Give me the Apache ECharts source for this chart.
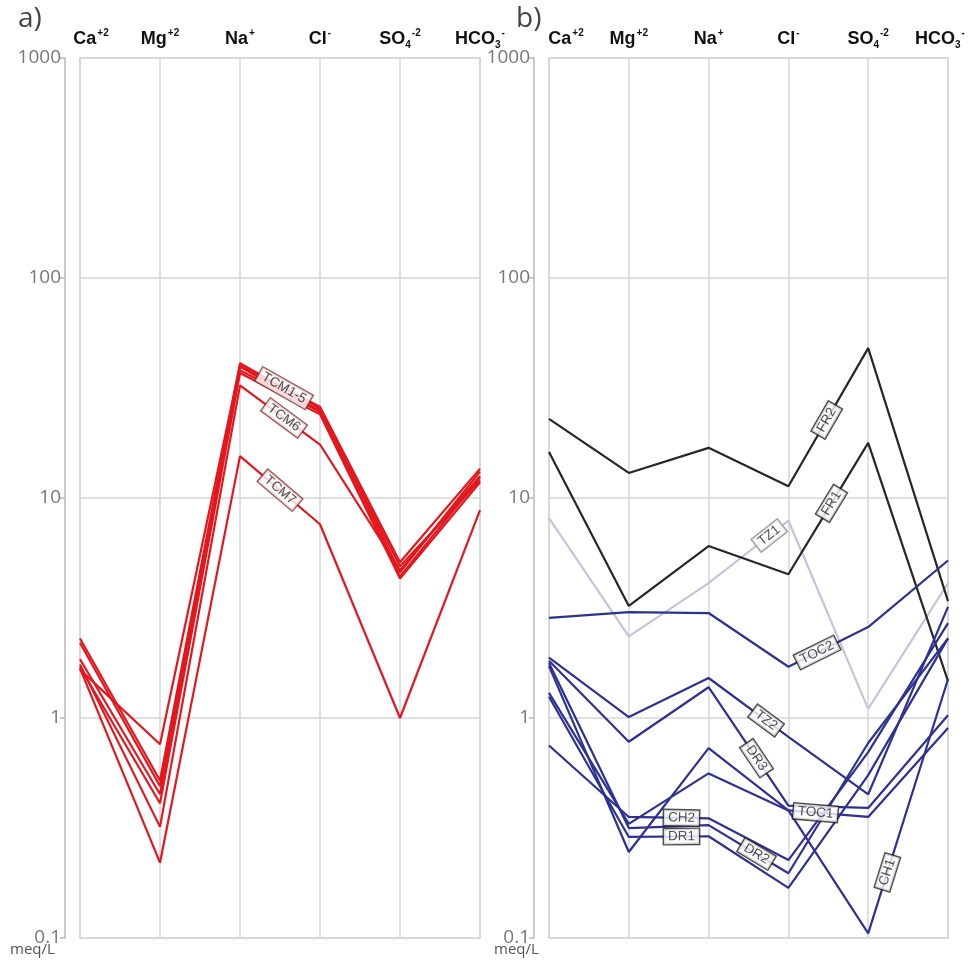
<!DOCTYPE html>
<html><head><meta charset="utf-8">
<script src="https://cdn.jsdelivr.net/npm/echarts@6/dist/echarts.min.js"></script>
<style>html,body{margin:0;padding:0;background:#fff}#c{width:976px;height:960px}</style>
</head><body><div id="c"></div>
<script>
// ---- data ----
var ions = ['Ca', 'Mg', 'Na', 'Cl', 'SO4', 'HCO3'];
var yTicks = [0.1, 1, 10, 100, 1000];
// panel a (meq/L): Ca, Mg, Na, Cl, SO4, HCO3
var TCM1 = [2.3, 0.52, 41, 25.5, 4.6, 13.2];
var TCM2 = [2.2, 0.49, 39.5, 24.5, 4.4, 12.4];
var TCM3 = [1.85, 0.45, 38, 25, 4.9, 12.0];
var TCM4 = [1.7, 0.41, 37, 24, 4.3, 11.8];
var TCM5 = [1.66, 0.76, 40, 26, 5.1, 13.6];
var TCM6 = [1.75, 0.32, 32.5, 17.5, 4.7, 12.6];
var TCM7 = [1.68, 0.22, 15.5, 7.6, 1.0, 8.8];
// panel b
var FR2 = [22.9, 13.0, 16.9, 11.3, 48, 3.4];
var FR1 = [16.2, 3.23, 6.05, 4.5, 17.8, 1.47];
var TZ1 = [8.1, 2.35, 4.1, 7.9, 1.1, 4.1];
var TOC2 = [2.85, 3.03, 3.0, 1.71, 2.59, 5.2];
var TZ2 = [1.88, 1.01, 1.52, 0.82, 0.45, 3.2];
var DR3 = [1.82, 0.78, 1.38, 0.40, 0.39, 1.03];
var TOC1 = [1.3, 0.33, 0.56, 0.38, 0.355, 0.90];
var CH2 = [0.75, 0.355, 0.35, 0.226, 0.70, 2.7];
var DR1 = [1.25, 0.288, 0.29, 0.169, 0.55, 2.3];
var DR2 = [1.78, 0.316, 0.326, 0.197, 0.77, 2.3];
var CH1 = [1.72, 0.246, 0.73, 0.38, 0.105, 1.5];

// ---- styling / layout ----
var RED = '#e3171d', BLACK = '#262626', LAV = '#c4c4dd', BLUE = '#2d3192';
var groupA = [
  {name:'TCM1', v:TCM1, c:RED}, {name:'TCM2', v:TCM2, c:RED}, {name:'TCM3', v:TCM3, c:RED},
  {name:'TCM4', v:TCM4, c:RED}, {name:'TCM5', v:TCM5, c:RED}, {name:'TCM6', v:TCM6, c:RED},
  {name:'TCM7', v:TCM7, c:RED}
];
var groupB = [
  {name:'TZ1', v:TZ1, c:LAV}, {name:'FR2', v:FR2, c:BLACK}, {name:'FR1', v:FR1, c:BLACK},
  {name:'TOC2', v:TOC2, c:BLUE}, {name:'TZ2', v:TZ2, c:BLUE}, {name:'DR3', v:DR3, c:BLUE},
  {name:'TOC1', v:TOC1, c:BLUE}, {name:'CH2', v:CH2, c:BLUE}, {name:'DR1', v:DR1, c:BLUE},
  {name:'DR2', v:DR2, c:BLUE}, {name:'CH1', v:CH1, c:BLUE}
];
// label anchors: text, panel, values, segment, fraction along it
var tags = [
  {t:'TCM1-5', p:0, v:TCM1, s:2, f:0.55, bc:'#8a2f2f'},
  {t:'TCM6', p:0, v:TCM6, s:2, f:0.55, bc:'#8a2f2f'},
  {t:'TCM7', p:0, v:TCM7, s:2, f:0.5, bc:'#8a2f2f'},
  {t:'FR2', p:1, v:FR2, s:3, f:0.48, bc:'#222'},
  {t:'FR1', p:1, v:FR1, s:3, f:0.54, bc:'#222'},
  {t:'TZ1', p:1, v:TZ1, s:2, f:0.76, bc:'#888'},
  {t:'TOC2', p:1, v:TOC2, s:3, f:0.36, bc:'#222'},
  {t:'TZ2', p:1, v:TZ2, s:2, f:0.72, bc:'#222'},
  {t:'DR3', p:1, v:DR3, s:2, f:0.6, bc:'#222'},
  {t:'TOC1', p:1, v:TOC1, s:3, f:0.34, bc:'#222'},
  {t:'CH2', p:1, v:CH2, s:1, f:0.66, bc:'#222'},
  {t:'DR1', p:1, v:DR1, s:1, f:0.66, bc:'#222'},
  {t:'DR2', p:1, v:DR2, s:2, f:0.6, bc:'#222'},
  {t:'CH1', p:1, v:CH1, s:4, f:0.24, bc:'#222'}
];

var ionRich = {
  Ca:'{b|Ca}{sup|+2}', Mg:'{b|Mg}{sup|+2}', Na:'{b|Na}{sup|+}', Cl:'{b|Cl}{sup|-}',
  SO4:'{b|SO}{sub|4}{sup|-2}', HCO3:'{b|HCO}{sub|3}{sup|-}'
};
var richStyle = {
  b:{fontFamily:'Liberation Sans, Arial', fontWeight:'bold', fontSize:18, color:'#111', lineHeight:22},
  sup:{fontFamily:'Liberation Sans, Arial', fontWeight:'bold', fontSize:10, color:'#111', verticalAlign:'top', lineHeight:22, padding:[0,0,0,1]},
  sub:{fontFamily:'Liberation Sans, Arial', fontWeight:'bold', fontSize:10, color:'#111', verticalAlign:'bottom', lineHeight:22},
  padL:{width:22}, padLb:{width:34}, padR:{width:16}
};

function xAxisFor(gi){
  return {
    type:'value', gridIndex:gi, min:0, max:5, interval:1, position:'top',
    axisLine:{show:false}, axisTick:{show:false},
    splitLine:{show:true, lineStyle:{color:'#d6d6d6', width:1.5}},
    axisLabel:{margin:8, rich:richStyle, formatter:function(val){
      var i = Math.round(val); var s = ionRich[ions[i]];
      if (i === 0) s = (gi === 0 ? '{padL|}' : '{padLb|}') + s;
      if (i === 5 && gi === 1) s = s + '{padR|}';
      return s;
    }}
  };
}
function yAxisFor(gi){
  return {
    type:'log', logBase:10, gridIndex:gi, min:0.1, max:1000, offset:15,
    axisLine:{show:true, onZero:false, lineStyle:{color:'#b8b8b8', width:1.5}},
    axisTick:{show:true, length:5, lineStyle:{color:'#b8b8b8', width:1.5}},
    minorTick:{show:false},
    splitLine:{show:true, lineStyle:{color:'#d6d6d6', width:1.5}},
    axisLabel:{color:'#777', fontSize:19, fontFamily:'Open Sans, Liberation Sans', margin:4,
      formatter:function(v){ return String(+v.toPrecision(3)); }}
  };
}

var series = [];
function addLines(group, gi){
  group.forEach(function(g){
    series.push({
      type:'line', name:g.name, xAxisIndex:gi, yAxisIndex:gi, symbol:'none', silent:true,
      lineStyle:{color:g.c, width:2.2}, z:3,
      data:g.v.map(function(v,i){ return [i, v]; })
    });
  });
}
addLines(groupA, 0);
addLines(groupB, 1);

var chart = echarts.init(document.getElementById('c'), null, {renderer:'canvas'});
var baseOption = {
  animation:false,
  grid:[
    {left:80, right:496, top:58, bottom:22, show:true, borderColor:'#d6d6d6', borderWidth:1.5},
    {left:549, right:28, top:58, bottom:22, show:true, borderColor:'#d6d6d6', borderWidth:1.5}
  ],
  xAxis:[xAxisFor(0), xAxisFor(1)],
  yAxis:[yAxisFor(0), yAxisFor(1)],
  graphic:[
    {type:'text', x:18, y:5, style:{text:'a)', fontSize:28, fill:'#444', fontFamily:'Open Sans, Liberation Sans'}},
    {type:'text', x:516, y:5, style:{text:'b)', fontSize:28, fill:'#444', fontFamily:'Open Sans, Liberation Sans'}},
    {type:'text', x:10, y:942, style:{text:'meq/L', fontSize:15, fill:'#555', fontFamily:'Open Sans, Liberation Sans'}},
    {type:'text', x:494, y:942, style:{text:'meq/L', fontSize:15, fill:'#555', fontFamily:'Open Sans, Liberation Sans'}}
  ],
  series:series
};
chart.setOption(baseOption);

// tag labels placed in data space along a segment, rotated to its pixel slope
var tagSeries = tags.map(function(tg){
  var a = tg.v[tg.s], b = tg.v[tg.s+1];
  var ly = Math.log10(a) + (Math.log10(b) - Math.log10(a)) * tg.f;
  var pos = [tg.s + tg.f, Math.pow(10, ly)];
  var p1 = chart.convertToPixel({gridIndex:tg.p}, [tg.s, a]);
  var p2 = chart.convertToPixel({gridIndex:tg.p}, [tg.s+1, b]);
  var ang = -Math.atan2(p2[1]-p1[1], p2[0]-p1[0]) * 180 / Math.PI;
  return {
    type:'scatter', xAxisIndex:tg.p, yAxisIndex:tg.p, symbolSize:0, silent:true, z:10,
    data:[pos],
    label:{show:true, position:'inside', formatter:tg.t, rotate:ang,
      fontFamily:'Liberation Sans, Arial', fontSize:13.5, color:'#222',
      backgroundColor:'#fff', borderColor:tg.bc, borderWidth:1.4, padding:[1,4,0,4]}
  };
});
chart.setOption({series:series.concat(tagSeries)});
</script></body></html>
